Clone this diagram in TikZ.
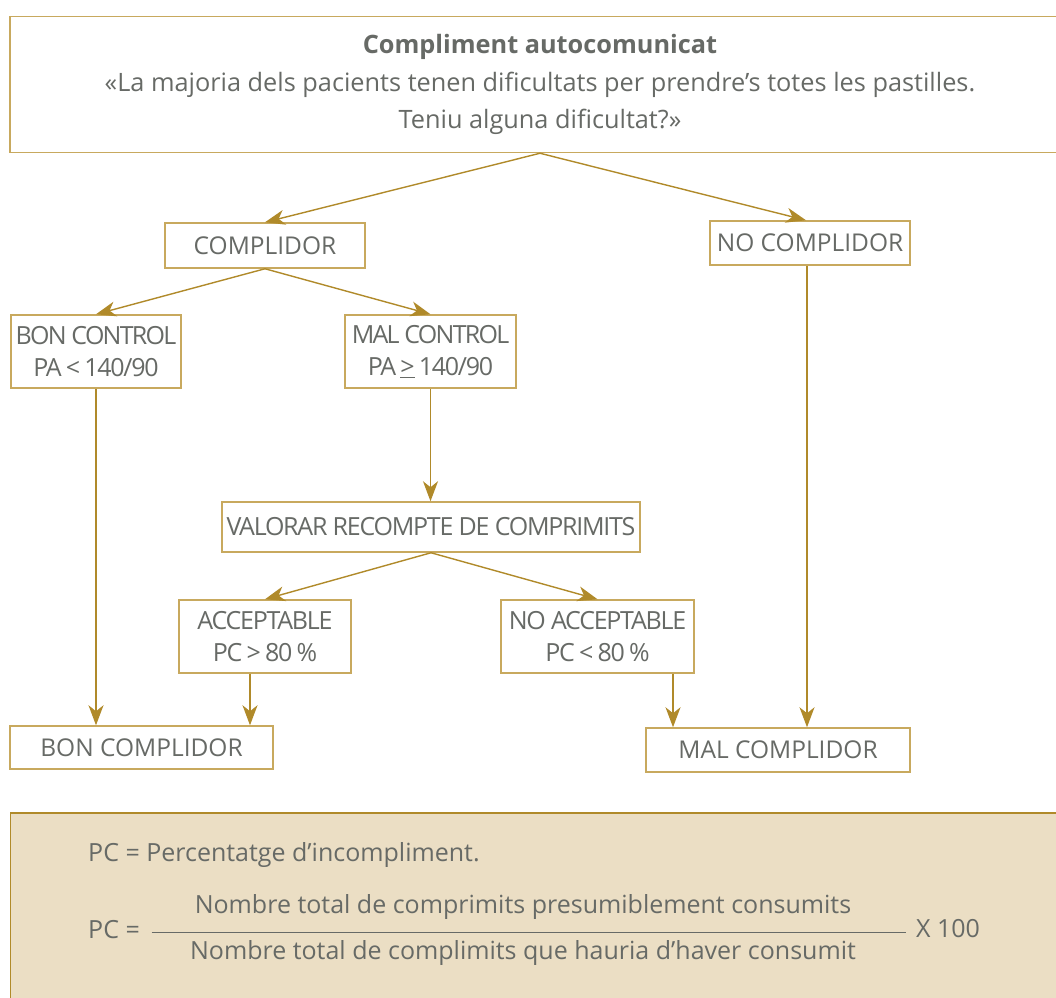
\documentclass[tikz,border=0pt]{standalone}
\usepackage{fontspec}
\setmainfont{Open Sans}
\newfontfamily\tightfont[LetterSpace=-5]{Open Sans}
\newfontfamily\tighterfont[LetterSpace=-7]{Open Sans}
\usetikzlibrary{arrows.meta}
\definecolor{boxgold}{HTML}{C8A95E}
\definecolor{arrowgold}{HTML}{B08A2A}
\definecolor{txtgrey}{HTML}{676A66}
\definecolor{panel}{HTML}{EBDEC4}
\tikzset{
  box/.style={draw=boxgold, line width=1.5pt, fill=white, text=txtgrey,
    inner sep=0pt, align=center, font=\fontsize{24.5}{32}\selectfont},
  twoline/.style={box, font=\tightfont\fontsize{25}{32}\selectfont},
  flow/.style={draw=arrowgold, line width=1.4pt,
    -{Stealth[length=20pt, width=15pt, inset=6pt]}},
  plain/.style={text=txtgrey, inner sep=0pt, font=\fontsize{25}{28}\selectfont},
}
\begin{document}
\begin{tikzpicture}[x=1pt, y=-1pt]
\useasboundingbox (0,0) rectangle (1056,997);

% heading box with the question
\node[box, minimum width=1060pt, minimum height=136pt,
  font=\fontsize{25.3}{37.5}\selectfont] (top) at (540,84.5)
  {{\bfseries Compliment autocomunicat}\\
   «La majoria dels pacients tenen dificultats per prendre’s totes les pastilles.\\
   Teniu alguna dificultat?»};

% decision boxes
\node[box, minimum width=200pt, minimum height=45pt] (comp) at (265,245.5) {COMPLIDOR};
\node[box, minimum width=200pt, minimum height=44pt] (nocomp) at (810,243) {NO COMPLIDOR};
\node[twoline, minimum width=170pt, minimum height=73pt] (bon) at (96,351.5)
  {{\tighterfont BON CONTROL}\\PA\,<\,140/90};
\node[twoline, minimum width=171pt, minimum height=73pt] (mal) at (430.5,351.5)
  {{\tighterfont MAL CONTROL}\\PA\,\underline{>}\,140/90};
\node[twoline, minimum width=418pt, minimum height=50pt] (val) at (431,527) {VALORAR RECOMPTE DE COMPRIMITS};
\node[twoline, minimum width=172pt, minimum height=73pt] (acc) at (265,636.5) {ACCEPTABLE\\PC\,>\,80\,\%};
\node[twoline, minimum width=193pt, minimum height=73pt] (noacc) at (597.5,636.5) {NO ACCEPTABLE\\PC\,<\,80\,\%};
\node[box, minimum width=263pt, minimum height=43pt] (boncomp) at (141.5,747.5) {BON COMPLIDOR};
\node[box, minimum width=264pt, minimum height=44pt] (malcomp) at (778,750) {MAL COMPLIDOR};

% connectors
\draw[flow] (top.south) -- (comp.north);
\draw[flow] (top.south) -- ([xshift=-4pt]nocomp.north);
\draw[flow] (comp.south) -- (bon.north);
\draw[flow] (comp.south) -- (mal.north);
\draw[flow] (bon.south) -- (bon.south |- boncomp.north);
\draw[flow] (mal.south) -- (mal.south |- val.north);
\draw[flow] (val.south) -- (acc.north);
\draw[flow] (val.south) -- (noacc.north);
\draw[flow] ([xshift=-15pt]acc.south) -- ([xshift=-15pt]acc.south |- boncomp.north);
\draw[flow] ([xshift=75.5pt]noacc.south) -- ([xshift=75.5pt]noacc.south |- malcomp.north);
\draw[flow] ([xshift=-3pt]nocomp.south) -- ([xshift=-3pt]nocomp.south |- malcomp.north);

% legend panel
\node[draw=arrowgold, line width=1.5pt, fill=panel, minimum width=1070pt,
  minimum height=200pt, anchor=north west, inner sep=0pt] (panel) at (9.5,812) {};
\node[plain, anchor=west] (def) at (88,855) {PC = Percentatge d’incompliment.};
\node[plain, anchor=west] (pceq) at (88,930) {PC =};
\coordinate (barL) at (151.5,932);
\coordinate (barR) at (906,932);
\draw[txtgrey, line width=1pt] (barL) -- (barR);
\node[plain] (num) at (523,907) {Nombre total de comprimits presumiblement consumits};
\node[plain] (den) at (523,953) {Nombre total de complimits que hauria d’haver consumit};
\node[plain, anchor=west] (times) at (916,929) {X 100};
\end{tikzpicture}
\end{document}
